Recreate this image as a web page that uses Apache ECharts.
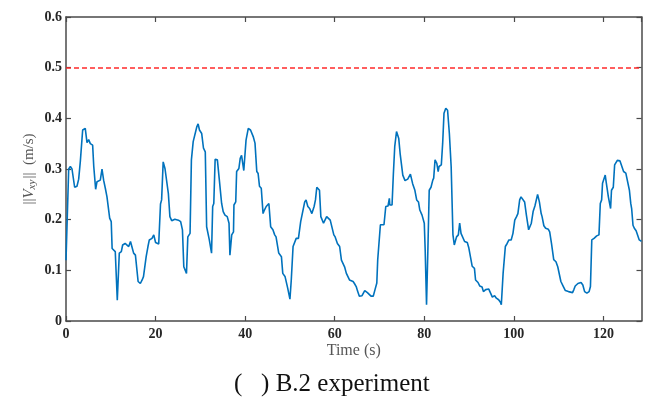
<!DOCTYPE html>
<html>
<head>
<meta charset="utf-8">
<script src="https://cdn.jsdelivr.net/npm/echarts@6/dist/echarts.min.js"></script>
<style>html,body{margin:0;padding:0;background:#fff}#c{width:653px;height:406px}</style>
</head>
<body>
<div id="c"></div>
<script>
const times = [0,0.6,0.97,1.34,1.93,2.45,2.83,3.2,3.72,4.3,4.69,5.06,5.43,5.95,6.2,6.62,6.92,7.66,8.04,8.4,8.78,9.15,9.5,9.75,10.1,10.3,10.6,11.0,11.45,11.9,12.35,12.65,13.2,14.0,14.4,14.7,15.1,15.5,16.1,16.6,17.0,17.3,17.9,18.3,18.6,19.2,19.6,20.0,20.7,21.1,21.35,21.7,22.1,22.5,22.85,23.2,23.6,23.96,24.3,25.1,25.6,26.0,26.3,26.7,26.9,27.2,27.7,28.0,28.4,28.8,29.2,29.5,29.8,30.3,30.7,31.1,31.4,31.8,32.0,32.3,32.5,32.75,33.0,33.3,33.8,34.2,34.75,35.1,35.5,36.0,36.4,36.6,37.0,37.4,37.5,37.9,38.1,38.6,38.9,39.2,39.7,40.2,40.7,41.2,41.8,42.2,42.6,42.9,43.2,43.6,44.0,44.3,44.7,45.3,45.7,46.2,46.6,46.9,47.5,48.1,48.4,48.9,49.5,50.0,50.3,50.7,51.1,51.4,51.9,52.4,52.8,53.3,53.6,54.0,54.4,54.9,55.4,55.7,56.0,56.6,56.9,57.1,57.5,57.9,58.2,58.6,59.0,59.4,59.8,60.1,60.6,61.1,61.5,61.8,62.2,62.6,62.95,63.3,63.7,64.1,64.4,64.8,65.1,65.5,66.1,66.7,67.3,68.1,68.6,69.0,69.4,69.6,69.9,70.2,71.0,71.4,71.9,72.2,72.3,72.8,73.1,73.4,73.8,74.3,74.6,75.0,75.2,75.7,76.3,76.9,77.4,77.9,78.3,78.7,79.0,79.5,80.0,80.2,80.5,80.8,81.1,81.5,81.9,82.1,82.4,82.8,83.1,83.3,83.8,84.1,84.4,84.8,85.2,85.6,86.0,86.4,86.7,87.0,87.2,87.6,87.9,88.2,88.6,89.0,89.6,89.95,90.3,90.7,91.2,91.45,92.0,92.4,92.9,93.2,93.7,94.4,94.8,95.2,95.7,96.1,96.6,97.0,97.2,97.6,98.1,98.5,98.9,99.4,99.8,100.2,100.6,100.9,101.3,101.6,101.9,102.4,102.8,103.3,103.9,104.3,104.7,105.0,105.3,105.7,106.1,106.3,106.7,107.1,107.7,108.0,108.4,108.9,109.4,109.8,110.1,110.5,111.0,111.5,112.2,113.1,113.4,113.7,114.3,115.0,115.4,115.8,116.3,116.8,117.1,117.4,117.9,118.1,118.5,119.0,119.3,119.6,119.8,120.1,120.4,120.6,120.9,121.1,121.4,121.6,121.8,122.2,122.5,122.8,123.1,123.7,124.1,124.5,125.0,125.4,125.8,126.1,126.3,126.6,126.9,127.3,127.7,128.0,128.5];
const speeds = [0.12,0.30,0.305,0.30,0.264,0.266,0.28,0.315,0.377,0.38,0.352,0.358,0.35,0.347,0.305,0.26,0.275,0.278,0.30,0.278,0.262,0.245,0.242,0.203,0.196,0.143,0.141,0.137,0.041,0.134,0.137,0.15,0.153,0.147,0.157,0.147,0.134,0.13,0.078,0.074,0.081,0.0875,0.127,0.147,0.16,0.163,0.17,0.155,0.152,0.231,0.239,0.314,0.301,0.301,0.252,0.206,0.198,0.199,0.201,0.199,0.196,0.18,0.107,0.104,0.094,0.166,0.173,0.318,0.354,0.357,0.383,0.389,0.377,0.37,0.341,0.334,0.186,0.183,0.16,0.157,0.134,0.226,0.232,0.319,0.318,0.282,0.232,0.216,0.209,0.206,0.193,0.13,0.17,0.176,0.229,0.235,0.295,0.301,0.321,0.327,0.297,0.357,0.38,0.377,0.364,0.351,0.295,0.291,0.266,0.262,0.212,0.219,0.226,0.232,0.186,0.18,0.17,0.166,0.134,0.127,0.094,0.088,0.065,0.043,0.081,0.147,0.15,0.163,0.163,0.196,0.199,0.235,0.239,0.226,0.222,0.212,0.226,0.239,0.264,0.258,0.206,0.203,0.193,0.193,0.206,0.206,0.199,0.196,0.17,0.166,0.153,0.147,0.12,0.117,0.107,0.094,0.091,0.081,0.081,0.078,0.074,0.068,0.059,0.049,0.05,0.06,0.056,0.049,0.049,0.062,0.075,0.121,0.124,0.19,0.19,0.226,0.227,0.242,0.229,0.229,0.291,0.344,0.374,0.36,0.331,0.328,0.288,0.277,0.28,0.29,0.271,0.258,0.239,0.235,0.219,0.209,0.193,0.14,0.032,0.14,0.258,0.264,0.278,0.282,0.318,0.311,0.295,0.305,0.308,0.35,0.41,0.42,0.416,0.37,0.305,0.17,0.15,0.147,0.166,0.17,0.193,0.173,0.17,0.157,0.155,0.144,0.141,0.108,0.104,0.081,0.076,0.069,0.067,0.058,0.062,0.063,0.055,0.047,0.05,0.045,0.042,0.037,0.032,0.094,0.147,0.153,0.16,0.16,0.173,0.199,0.206,0.212,0.239,0.245,0.245,0.235,0.209,0.18,0.193,0.216,0.227,0.229,0.25,0.235,0.212,0.206,0.188,0.183,0.181,0.176,0.153,0.121,0.117,0.107,0.104,0.078,0.069,0.06,0.058,0.056,0.062,0.069,0.074,0.076,0.071,0.058,0.055,0.058,0.068,0.16,0.163,0.161,0.168,0.17,0.232,0.239,0.272,0.275,0.288,0.275,0.272,0.245,0.242,0.222,0.258,0.264,0.308,0.311,0.317,0.316,0.313,0.295,0.292,0.291,0.258,0.232,0.222,0.189,0.183,0.178,0.176,0.16,0.157];
const limitValue = 0.5;
const xRange = [0, 128.5];
const yRange = [0, 0.6];
const xLabel = 'Time (s)';
const captionText = '(   ) B.2 experiment';

const chart = echarts.init(document.getElementById('c'), null, {renderer: 'canvas'});
const serif = '"Liberation Serif", "DejaVu Serif", serif';
const axisColor = '#4a4a4a';
const tickLabel = {fontFamily: serif, fontWeight: 'bold', fontSize: 14, color: '#262626'};
const lineData = times.map((t, i) => [t, speeds[i]]);
const frameLine = {show: true, onZero: false, lineStyle: {color: axisColor, width: 1.5}};
const inTick = {show: true, inside: true, length: 5, lineStyle: {color: axisColor, width: 1.2}};

chart.setOption({
  animation: false,
  backgroundColor: '#fff',
  grid: {left: 66, top: 17, right: 11.5, bottom: 85, containLabel: false},
  title: {
    text: captionText, left: 229, top: 367,
    textStyle: {fontFamily: serif, fontWeight: 'normal', fontSize: 25, color: '#111'}
  },
  xAxis: [{
    type: 'value', min: xRange[0], max: xRange[1], interval: 20,
    name: xLabel, nameLocation: 'middle', nameGap: 22, nameMoveOverlap: false,
    nameTextStyle: {fontFamily: serif, fontSize: 16, color: '#555'},
    axisLine: frameLine, axisTick: inTick,
    axisLabel: Object.assign({margin: 6, showMaxLabel: false}, tickLabel),
    splitLine: {show: false}
  }, {
    type: 'value', position: 'top', min: xRange[0], max: xRange[1], interval: 20,
    axisLine: frameLine, axisTick: inTick,
    axisLabel: {show: false}, splitLine: {show: false}
  }],
  yAxis: [{
    type: 'value', min: yRange[0], max: yRange[1], interval: 0.1,
    name: '{n|||}{i|V}{s|xy}{n|||  (m/s)}', nameLocation: 'middle', nameGap: 28, nameRotate: 90,
    nameMoveOverlap: false,
    nameTextStyle: {
      color: '#555', fontFamily: serif, fontSize: 15, lineHeight: 18,
      rich: {
        n: {fontFamily: serif, fontSize: 15, color: '#555', lineHeight: 18},
        i: {fontFamily: serif, fontSize: 15, fontStyle: 'italic', color: '#555', lineHeight: 18},
        s: {fontFamily: serif, fontSize: 11, fontStyle: 'italic', color: '#555', lineHeight: 12, verticalAlign: 'bottom', padding: [0, 1, 0, 0]}
      }
    },
    axisLine: frameLine, axisTick: inTick,
    axisLabel: Object.assign({margin: 4, formatter: v => (v === 0 ? '0' : v.toFixed(1))}, tickLabel),
    splitLine: {show: false}
  }, {
    type: 'value', position: 'right', min: yRange[0], max: yRange[1], interval: 0.1,
    axisLine: frameLine, axisTick: inTick,
    axisLabel: {show: false}, splitLine: {show: false}
  }],
  series: [{
    type: 'line', data: lineData, xAxisIndex: 0, yAxisIndex: 0,
    showSymbol: false, symbol: 'none', smooth: false,
    lineStyle: {color: '#0072BD', width: 1.6},
    markLine: {
      silent: true, symbol: 'none', label: {show: false},
      lineStyle: {color: '#ff2a2a', type: [5, 3], width: 1.5},
      data: [{yAxis: limitValue}]
    }
  }]
});
</script>
</body>
</html>
